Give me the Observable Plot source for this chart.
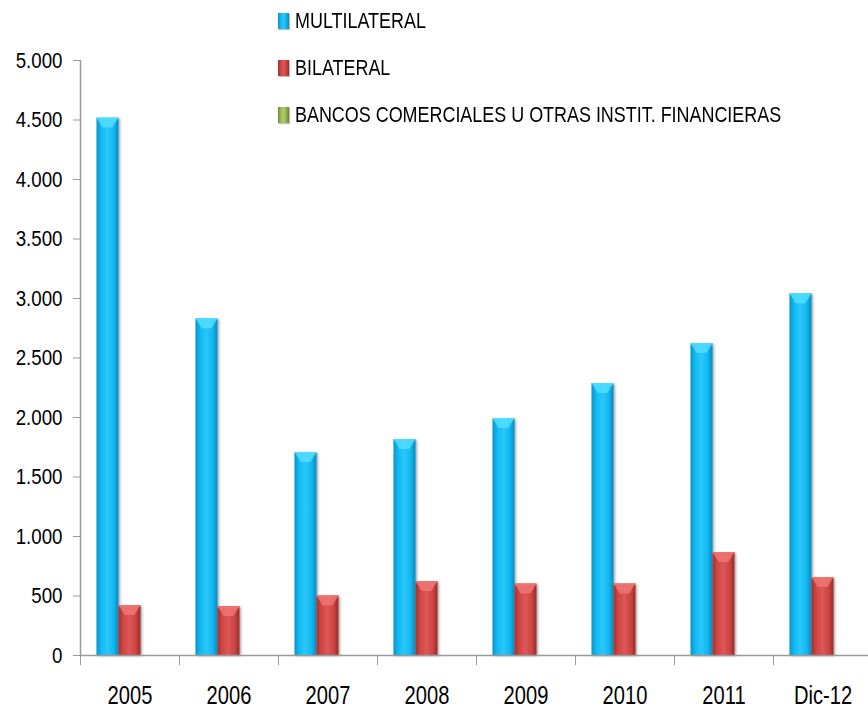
<!DOCTYPE html>
<html>
<head>
<meta charset="utf-8">
<script src="https://cdn.jsdelivr.net/npm/d3@7"></script>
<script src="https://cdn.jsdelivr.net/npm/@observablehq/plot@0.6"></script>
<style>
  body { margin: 0; background: #fff; }
  #wrap { position: relative; width: 868px; height: 710px; }
  #legend {
    position: absolute; left: 278px; top: -3px;
    font-family: "Liberation Sans", Arial, sans-serif;
    font-size: 22px; color: #000;
  }
  .item { display: flex; align-items: center; height: 47px; white-space: nowrap; }
  .sw { width: 11px; height: 16px; margin-right: 6px; flex: none; box-shadow: 1px 1px 1px rgba(0,0,0,0.25); }
  .lbl { display: inline-block; transform: scaleX(0.815); transform-origin: 0 50%; }
</style>
</head>
<body>
<div id="wrap"></div>
<script>
// ---- data ----
const years = ["2005", "2006", "2007", "2008", "2009", "2010", "2011", "Dic-12"];
const multilateral = [4515, 2830, 1705, 1815, 1990, 2285, 2620, 3040];
const bilateral = [420, 410, 500, 620, 600, 600, 865, 655];
const bancos = [0, 0, 0, 0, 0, 0, 0, 0];
const seriesNames = ["MULTILATERAL", "BILATERAL", "BANCOS COMERCIALES U OTRAS INSTIT. FINANCIERAS"];
const yTicks = [0, 500, 1000, 1500, 2000, 2500, 3000, 3500, 4000, 4500, 5000];

// ---- styling ----
const gradIds = ["gMulti", "gBi", "gBanc"];
const gradStops = [
  ["#0792C6", "#0FB9F3", "#2CC8FA", "#10B5EF", "#0788BA"],
  ["#A2302E", "#CF4543", "#DC5856", "#CB4240", "#962B29"],
  ["#6E8A2E", "#98B850", "#AECD66", "#93B34C", "#66812A"]
];
const capColors = ["#52DDFF", "#EE7573", "#C4E27E"];

const xRange = [80, 872];
const step = (xRange[1] - xRange[0]) / years.length;
const barW = 22;
const inset = (step - barW) / 2;
const seriesData = [multilateral, bilateral, bancos];

const fmt = d => d3.format(",")(d).replace(/,/g, ".");
const font = '"Liberation Sans", Arial, sans-serif';

const barMarks = seriesData.map((vals, i) =>
  Plot.barY(years.map((y, j) => ({year: y, value: vals[j]})), {
    x: "year", y: "value",
    fill: `url(#${gradIds[i]})`,
    insetLeft: inset, insetRight: inset,
    dx: (i - 1) * barW
  })
);

const chart = Plot.plot({
  width: 868,
  height: 710,
  marginLeft: 80,
  marginRight: 0,
  marginTop: 60,
  marginBottom: 55,
  style: {fontFamily: font, background: "#fff", overflow: "visible"},
  x: {domain: years, range: xRange, padding: 0},
  y: {domain: [0, 5000]},
  marks: [
    ...barMarks,
    Plot.ruleY([0], {stroke: "#9a9a9a", strokeWidth: 1.5}),
    Plot.ruleX([years[0]], {y1: 0, y2: 5000, dx: -step / 2, stroke: "#9a9a9a", strokeWidth: 1.5}),
    Plot.axisY({ticks: yTicks, tickFormat: fmt, tickSize: 7, tickPadding: 11, fontSize: 22, stroke: "#9a9a9a", color: "#000", label: null}),
    Plot.axisX({tickSize: 10, text: null, dx: -step / 2, stroke: "#9a9a9a", label: null}),
    Plot.axisX({tickSize: 0, tickPadding: 30, fontSize: 26.5, color: "#000", label: null})
  ]
});

const svg = d3.select(chart);
const defs = svg.insert("defs", ":first-child");
gradIds.forEach((id, i) => {
  const g = defs.append("linearGradient").attr("id", id).attr("x1", "0").attr("x2", "1").attr("y1", "0").attr("y2", "0");
  const offs = [0, 0.2, 0.5, 0.8, 1];
  gradStops[i].forEach((c, k) => g.append("stop").attr("offset", offs[k]).attr("stop-color", c));
});
const filt = defs.append("filter").attr("id", "shadow").attr("x", "-20%").attr("y", "-5%").attr("width", "160%").attr("height", "115%");
filt.append("feDropShadow").attr("dx", 1.5).attr("dy", 1).attr("stdDeviation", 1.2).attr("flood-opacity", 0.35);

// bevel caps derived from the rendered bars
const barGroups = svg.selectAll('g[aria-label="bar"]').nodes();
barGroups.forEach((node, i) => {
  const g = d3.select(node);
  g.attr("filter", "url(#shadow)");
  const capsNode = document.createElementNS("http://www.w3.org/2000/svg", "g");
  if (node.getAttribute("transform")) capsNode.setAttribute("transform", node.getAttribute("transform"));
  node.parentNode.insertBefore(capsNode, node.nextSibling);
  const caps = d3.select(capsNode);
  g.selectAll("rect").each(function () {
    const r = d3.select(this);
    const x = +r.attr("x"), y = +r.attr("y"), w = +r.attr("width"), h = +r.attr("height");
    if (!(h > 2)) return;
    const d = Math.min(w * 0.45, h);
    caps.append("polygon")
      .attr("points", `${x},${y} ${x + w},${y} ${x + w * 0.72},${y + d} ${x + w * 0.28},${y + d}`)
      .attr("fill", capColors[i % capColors.length]).attr("opacity", 0.85);
    caps.append("rect").attr("x", x).attr("y", y).attr("width", w).attr("height", 1.2)
      .attr("fill", capColors[i % capColors.length]);
  });
});

// narrow the text horizontally (Calibri-like proportions), keeping anchor
function squeeze(sel, s) {
  sel.each(function () {
    const t = d3.select(this);
    const px = parseFloat(t.attr("x")) || 0;
    const tr = t.attr("transform") || "";
    t.attr("transform", `${tr} translate(${px},0) scale(${s},1) translate(${-px},0)`);
  });
}
squeeze(svg.selectAll('g[aria-label="y-axis tick label"] text'), 0.85);
squeeze(svg.selectAll('g[aria-label="x-axis tick label"] text'), 0.76);

const wrap = document.getElementById("wrap");
wrap.appendChild(chart);
chart.style.position = "absolute";
chart.style.left = "0";
chart.style.top = "0";

const legend = d3.select(wrap).append("div").attr("id", "legend");
seriesNames.forEach((name, i) => {
  const it = legend.append("div").attr("class", "item");
  it.append("div").attr("class", "sw").style("background", `linear-gradient(to right, ${gradStops[i].join(",")})`);
  it.append("span").attr("class", "lbl").text(name);
});
</script>
</body>
</html>
